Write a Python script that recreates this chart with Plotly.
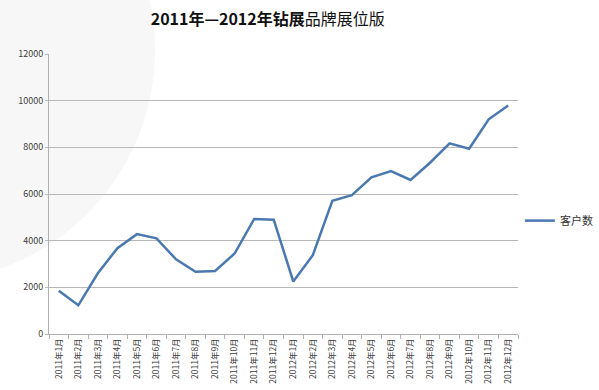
import plotly.graph_objects as go

months = [f"2011年{m}月" for m in range(1, 13)] + [f"2012年{m}月" for m in range(1, 13)]
customers = [1850, 1230, 2600, 3680, 4280, 4100, 3200, 2670, 2700, 3450, 4930, 4900,
             2250, 3380, 5710, 5950, 6710, 6980, 6600, 7340, 8170, 7940, 9200, 9790]
y_ticks = [0, 2000, 4000, 6000, 8000, 10000, 12000]

cjk = "Noto Sans CJK SC, Noto Sans, sans-serif"

fig = go.Figure()
fig.add_trace(go.Scatter(
    x=months, y=customers, mode="lines", name="客户数",
    line=dict(color="#4a78b0", width=2.5),
))

fig.update_layout(
    width=599, height=390,
    margin=dict(l=49, r=81, t=54, b=56, autoexpand=False),
    paper_bgcolor="white", plot_bgcolor="rgba(0,0,0,0)",
    title=dict(text="<b>2011年—2012年钻展</b>品牌展位版", x=0.447, xanchor="center",
               y=0.95, yanchor="middle",
               font=dict(family=cjk, size=16, color="#111111")),
    font=dict(family=cjk, size=9, color="#404040"),
    showlegend=True,
    legend=dict(x=1.004, y=0.405, xanchor="left", yanchor="middle", itemwidth=30,
                font=dict(family=cjk, size=11, color="#333333"),
                bgcolor="rgba(0,0,0,0)"),
    xaxis=dict(type="category", range=[-0.5, len(months) - 0.5], showgrid=False,
               automargin=False,
               showline=True, linecolor="#b0b0b0",
               linewidth=1, ticks="outside", tickson="boundaries", ticklen=4,
               tickcolor="#b0b0b0", tickangle=-90, tickfont=dict(size=8.5, color="#404040")),
    yaxis=dict(range=[0, 12000], tickvals=y_ticks, ticktext=[str(v) for v in y_ticks],
               automargin=False,
               showgrid=True, gridcolor="#b8b8b8",
               gridwidth=1, showline=True, linecolor="#b0b0b0", linewidth=1,
               ticks="outside", ticklen=3, tickcolor="#b8b8b8", zeroline=False,
               tickfont=dict(size=9, color="#404040")),
    shapes=[dict(type="circle", xref="paper", yref="paper", layer="below",
                 x0=-0.763, x1=0.226, y0=0.186, y1=1.843,
                 fillcolor="#f7f7f7", line=dict(width=0))],
)

fig.write_html("out.html", config={"displayModeBar": False},
               post_script="document.body.style.margin='0px';document.body.style.overflow='hidden';")
